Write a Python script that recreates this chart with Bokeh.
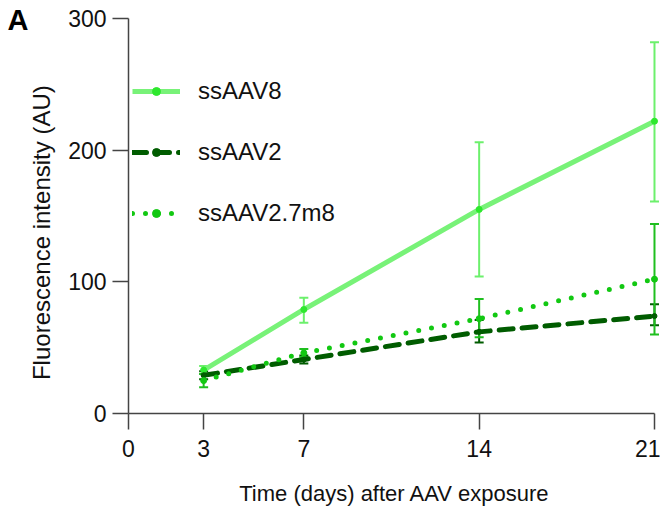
from bokeh.plotting import figure
from bokeh.models import (ColumnDataSource, Whisker, TeeHead, FixedTicker, Range1d,
                          Legend, LegendItem)
from bokeh.embed import file_html
from bokeh.resources import INLINE

# ---- data ----
days = [3, 7, 14, 21]
x_ticks = [0, 3, 7, 14, 21]
y_ticks = [0, 100, 200, 300]

aav8_mean = [33, 79, 155, 222]
aav8_lo = [30, 69, 104, 161]
aav8_hi = [36, 88, 206, 282]

aav2_mean = [29, 41, 62, 74]
aav2_lo = [26, 38, 54, 67]
aav2_hi = [32, 44, 71, 83]

m8_mean = [25, 46, 72, 102]
m8_lo = [20, 43, 58, 60]
m8_hi = [30, 49, 87, 144]

series_names = ["ssAAV8", "ssAAV2", "ssAAV2.7m8"]
panel_letter = "A"

FONT = "Liberation Sans"

p = figure(width=660, height=508, output_backend="svg", toolbar_location=None,
           x_range=Range1d(0, 21.24), y_range=Range1d(0, 300),
           min_border_left=128, min_border_right=0, min_border_top=18, min_border_bottom=95)
p.outline_line_color = None
p.grid.visible = False
p.background_fill_color = "white"

# panel letter as title, shifted left of the frame
p.title.text = panel_letter
p.title.align = "left"
p.title.offset = -121
p.title.standoff = -34
p.title.text_font = FONT
p.title.text_font_style = "bold"
p.title.text_font_size = "29px"
p.title.text_color = "#000"

# styles
c8_line, c8_pt, c8_err = "#78f278", "#2ee82e", "#6cf06c"
c2 = "#005c00"
cm8_line, cm8_err = "#12c812", "#1fbf1f"

def src(mean, lo, hi):
    return ColumnDataSource(dict(x=days, y=mean, lo=lo, hi=hi))

s8 = src(aav8_mean, aav8_lo, aav8_hi)
s2 = src(aav2_mean, aav2_lo, aav2_hi)
sm8 = src(m8_mean, m8_lo, m8_hi)

def whisk(s, color, width):
    w = Whisker(source=s, base="x", upper="hi", lower="lo", line_color=color, line_width=width,
                upper_head=TeeHead(size=9, line_color=color, line_width=width),
                lower_head=TeeHead(size=9, line_color=color, line_width=width))
    p.add_layout(w)

r8l = p.line("x", "y", source=s8, line_color=c8_line, line_width=5)
r8p = p.scatter("x", "y", source=s8, size=6, fill_color=c8_pt, line_color=c8_pt)
whisk(s8, c8_err, 2)

r2l = p.line("x", "y", source=s2, line_color=c2, line_width=5, line_dash="14 9", line_cap="round")
r2p = p.scatter("x", "y", source=s2, size=5, fill_color=c2, line_color=c2)
whisk(s2, c2, 2)

rml = p.line("x", "y", source=sm8, line_color=cm8_line, line_width=5, line_dash="0 13", line_cap="round")
rmp = p.scatter("x", "y", source=sm8, size=6, fill_color=cm8_line, line_color=cm8_line)
whisk(sm8, cm8_err, 2)

legend = Legend(items=[LegendItem(label=series_names[0], renderers=[r8l, r8p]),
                       LegendItem(label=series_names[1], renderers=[r2l, r2p]),
                       LegendItem(label=series_names[2], renderers=[rml, rmp])],
                location=(4, 186), glyph_width=48, glyph_height=20, label_height=20,
                spacing=33, label_standoff=18, padding=0, margin=0,
                border_line_alpha=0, background_fill_alpha=0,
                label_text_font=FONT, label_text_font_size="24px", label_text_color="#111")
p.add_layout(legend, "center")

# axes
for ax in (p.xaxis[0], p.yaxis[0]):
    ax.axis_line_color = "#444"
    ax.axis_line_width = 1.5
    ax.major_tick_line_color = "#444"
    ax.major_tick_line_width = 1.5
    ax.major_tick_out = 16
    ax.major_tick_in = 0
    ax.minor_tick_line_color = None
    ax.major_label_text_font = FONT
    ax.major_label_text_font_size = "23px"
    ax.major_label_text_color = "#111"
    ax.axis_label_text_font = FONT
    ax.axis_label_text_font_style = "normal"
    ax.axis_label_text_color = "#111"

p.xaxis.ticker = FixedTicker(ticks=x_ticks)
p.yaxis.ticker = FixedTicker(ticks=y_ticks)
p.xaxis.bounds = (0, 21)
p.yaxis.bounds = (0, 300)
p.xaxis.axis_label = "Time (days) after AAV exposure"
p.yaxis.axis_label = "Fluorescence intensity (AU)" + "\u00a0" * 5
p.xaxis.axis_label_text_font_size = "22px"
p.yaxis.axis_label_text_font_size = "24px"
p.xaxis.major_label_standoff = 10
p.yaxis.major_label_standoff = 6
p.xaxis.axis_label_standoff = 21
p.yaxis.axis_label_standoff = 10

open("out.html", "w").write(file_html(p, INLINE))
